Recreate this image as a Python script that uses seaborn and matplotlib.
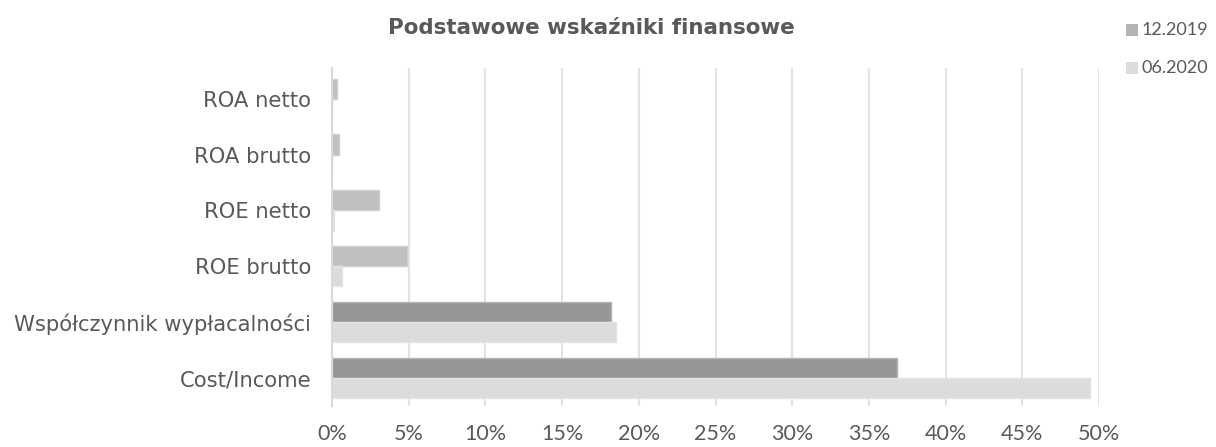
import matplotlib
matplotlib.use("Agg")
import matplotlib.pyplot as plt
import seaborn as sns
import pandas as pd
from matplotlib.patches import Rectangle

categories = ["ROA netto", "ROA brutto", "ROE netto", "ROE brutto",
              "Współczynnik wypłacalności", "Cost/Income"]
series_names = ["12.2019", "06.2020"]
values_2019 = [0.30, 0.45, 3.05, 4.90, 18.2, 36.8]
values_2020 = [0.00, 0.00, 0.10, 0.65, 18.5, 49.4]
x_ticks = [0, 5, 10, 15, 20, 25, 30, 35, 40, 45, 50]
x_tick_labels = [f"{t}%" for t in x_ticks]

df = pd.DataFrame({
    "cat": categories * 2,
    "series": [series_names[0]] * len(categories) + [series_names[1]] * len(categories),
    "val": values_2019 + values_2020,
})

sns.set_theme(style="white")
plt.rcParams['font.family'] = ['DejaVu Sans']

fig = plt.figure(figsize=(12.16, 4.47), dpi=100)
ax = fig.add_axes([332 / 1216, 1 - 406 / 447, (1099 - 332) / 1216, (406 - 68) / 447])

pal = {"12.2019": "#969696", "06.2020": "#dcdcdc"}
sns.barplot(data=df, y="cat", x="val", hue="series", order=categories,
            hue_order=series_names, palette=pal, orient="h", width=0.72,
            ax=ax, legend=False, saturation=1)

# lighter colour for the small-ratio bars of 12.2019
light_2019 = "#c0c0c0"
bars_2019 = ax.containers[0]
for i, p in enumerate(bars_2019.patches):
    if i < 4:
        p.set_facecolor(light_2019)
    p.set_edgecolor("#cfcfcf" if i < 4 else "#b4b4b4")
    p.set_linewidth(1.0)
for p in ax.containers[1].patches:
    p.set_edgecolor("#e4e4e4")
    p.set_linewidth(1.0)

ax.set_xlim(0, 50)
ax.set_ylim(len(categories) - 0.5, -0.5 - 0.05)
ax.set_xticks(x_ticks)
ax.set_xticklabels(x_tick_labels)
ax.set_yticks(range(len(categories)))
ax.set_yticklabels(categories)
for lbl in ax.get_xticklabels():
    lbl.set_fontfamily(["Lato"])
    lbl.set_fontsize(15.5)
    lbl.set_color("#595959")
for lbl in ax.get_yticklabels():
    lbl.set_fontfamily(["DejaVu Sans"])
    lbl.set_fontsize(15.2)
    lbl.set_color("#595959")
ax.tick_params(axis="y", length=0, pad=15)
ax.tick_params(axis="x", length=0, pad=13)
ax.set_xlabel("")
ax.set_ylabel("")
ax.xaxis.grid(True, color="#e3e3e3", linewidth=1.5)
ax.set_axisbelow(True)
for s in ["top", "right", "bottom"]:
    ax.spines[s].set_visible(False)
ax.spines["left"].set_color("#d9d9d9")
ax.spines["left"].set_linewidth(1.5)

fig.text(591 / 1216, 1 - 28 / 447, "Podstawowe wskaźniki finansowe",
         ha="center", va="center", fontsize=15.4, fontweight="bold", color="#595959",
         family=["DejaVu Sans"])

# legend
leg_colors = ["#b4b4b4", "#dcdcdc"]
leg_y = [30, 68]
for name, c, yy in zip(series_names, leg_colors, leg_y):
    fig.patches.append(Rectangle((1126 / 1216, 1 - (yy + 6) / 447), 12 / 1216, 12 / 447,
                                 transform=fig.transFigure, facecolor=c, edgecolor="none"))
    fig.text(1142 / 1216, 1 - yy / 447, name, ha="left", va="center",
             fontsize=13, color="#595959", family=["Lato"])

fig.savefig("out.png", dpi=100)
